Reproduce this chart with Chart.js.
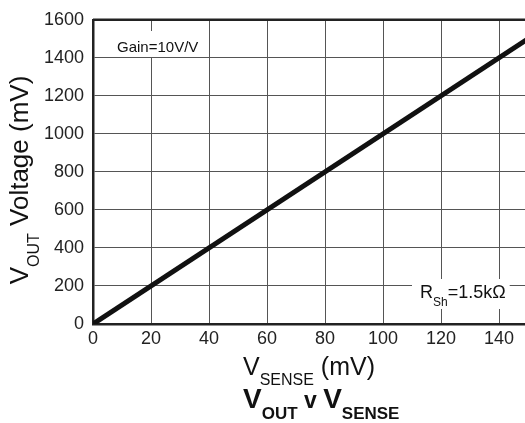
<!DOCTYPE html>
<html>
<head>
<meta charset="utf-8">
<script src="https://cdn.jsdelivr.net/npm/chart.js@4"></script>
<style>
  html, body { margin: 0; padding: 0; background: #fff; overflow: hidden; }
  #chart { display: block; }
</style>
</head>
<body>
<canvas id="chart" width="540" height="423"></canvas>
<script>
// V_OUT vs V_SENSE, gain 10 V/V
const vSense = [0, 150];       // mV
const vOut = [0, 1500];        // mV
const xTicks = { min: 0, max: 150, step: 20 };
const yTicks = { min: 0, max: 1600, step: 200 };
const gainLabel = "Gain=10V/V";
const rshLabel = ["R", "Sh", "=1.5kΩ"];

const FONT = "'Liberation Sans', Arial, sans-serif";

// draws a run of text pieces (normal / subscript) starting at x
function drawRuns(ctx, runs, x, y) {
  let cx = x;
  for (const r of runs) {
    ctx.font = r.font;
    ctx.fillText(r.text, cx, y + (r.dy || 0));
    cx += ctx.measureText(r.text).width;
  }
  return cx;
}

function runsWidth(ctx, runs) {
  let w = 0;
  for (const r of runs) {
    ctx.font = r.font;
    w += ctx.measureText(r.text).width;
  }
  return w;
}

const labelsPlugin = {
  id: "labels",
  afterDraw(chart) {
    const ctx = chart.ctx;
    const area = chart.chartArea;
    ctx.save();
    ctx.fillStyle = "#111";
    ctx.textBaseline = "alphabetic";
    ctx.textAlign = "left";

    // heavy top frame line
    ctx.strokeStyle = "#222";
    ctx.lineWidth = 2.5;
    ctx.beginPath();
    ctx.moveTo(area.left, area.top);
    ctx.lineTo(area.right, area.top);
    ctx.stroke();

    // gain note
    ctx.font = "15px " + FONT;
    const gw = ctx.measureText(gainLabel).width;
    ctx.fillStyle = "#fff";
    ctx.fillRect(112, 31, gw + 10, 26);
    ctx.fillStyle = "#111";
    ctx.fillText(gainLabel, 117, 52);

    // shunt resistor note
    const rRuns = [
      { text: rshLabel[0], font: "18px " + FONT },
      { text: rshLabel[1], font: "12px " + FONT, dy: 8 },
      { text: rshLabel[2], font: "18px " + FONT }
    ];
    const rw = runsWidth(ctx, rRuns);
    ctx.fillStyle = "#fff";
    ctx.fillRect(412, 279, rw + 12, 30);
    ctx.fillStyle = "#111";
    drawRuns(ctx, rRuns, 420, 298);

    // x axis title
    const xRuns = [
      { text: "V", font: "25px " + FONT },
      { text: "SENSE", font: "16px " + FONT, dy: 10 },
      { text: " (mV)", font: "25px " + FONT }
    ];
    drawRuns(ctx, xRuns, 243, 375);

    // caption
    const cRuns = [
      { text: "V", font: "bold 28px " + FONT },
      { text: "OUT", font: "bold 17px " + FONT, dy: 11 },
      { text: " v ", font: "bold 23px " + FONT },
      { text: "V", font: "bold 28px " + FONT },
      { text: "SENSE", font: "bold 17px " + FONT, dy: 11 }
    ];
    drawRuns(ctx, cRuns, 243, 408);

    // y axis title, rotated
    const yRuns = [
      { text: "V", font: "26px " + FONT },
      { text: "OUT", font: "16px " + FONT, dy: 11 },
      { text: " Voltage (mV)", font: "26px " + FONT }
    ];
    const yw = runsWidth(ctx, yRuns);
    ctx.translate(28, 180);
    ctx.rotate(-Math.PI / 2);
    drawRuns(ctx, yRuns, -yw / 2, 0);
    ctx.restore();
  }
};

const points = vSense.map((x, i) => ({ x, y: vOut[i] }));

new Chart(document.getElementById("chart"), {
  type: "line",
  data: {
    datasets: [{
      data: points,
      borderColor: "#111",
      borderWidth: 5,
      pointRadius: 0,
      tension: 0
    }]
  },
  options: {
    responsive: false,
    animation: false,
    layout: { padding: { left: 0, top: 19, right: 12, bottom: 0 } },
    plugins: {
      legend: { display: false },
      tooltip: { enabled: false }
    },
    scales: {
      x: {
        type: "linear",
        min: xTicks.min,
        max: xTicks.max,
        afterFit(scale) { scale.height = 99; },
        ticks: {
          stepSize: xTicks.step,
          includeBounds: false,
          callback: (v) => String(v),
          color: "#222",
          font: { family: FONT, size: 18 },
          padding: 4,
          maxRotation: 0
        },
        grid: { color: "#555", lineWidth: 1, drawTicks: false },
        border: { color: "#222", width: 2.5 }
      },
      y: {
        min: yTicks.min,
        max: yTicks.max,
        afterFit(scale) { scale.width = 93; },
        ticks: {
          stepSize: yTicks.step,
          callback: (v) => String(v),
          color: "#222",
          font: { family: FONT, size: 18 },
          padding: 9
        },
        grid: { color: "#555", lineWidth: 1, drawTicks: false },
        border: { color: "#222", width: 2.5 }
      }
    }
  },
  plugins: [labelsPlugin]
});
</script>
</body>
</html>
